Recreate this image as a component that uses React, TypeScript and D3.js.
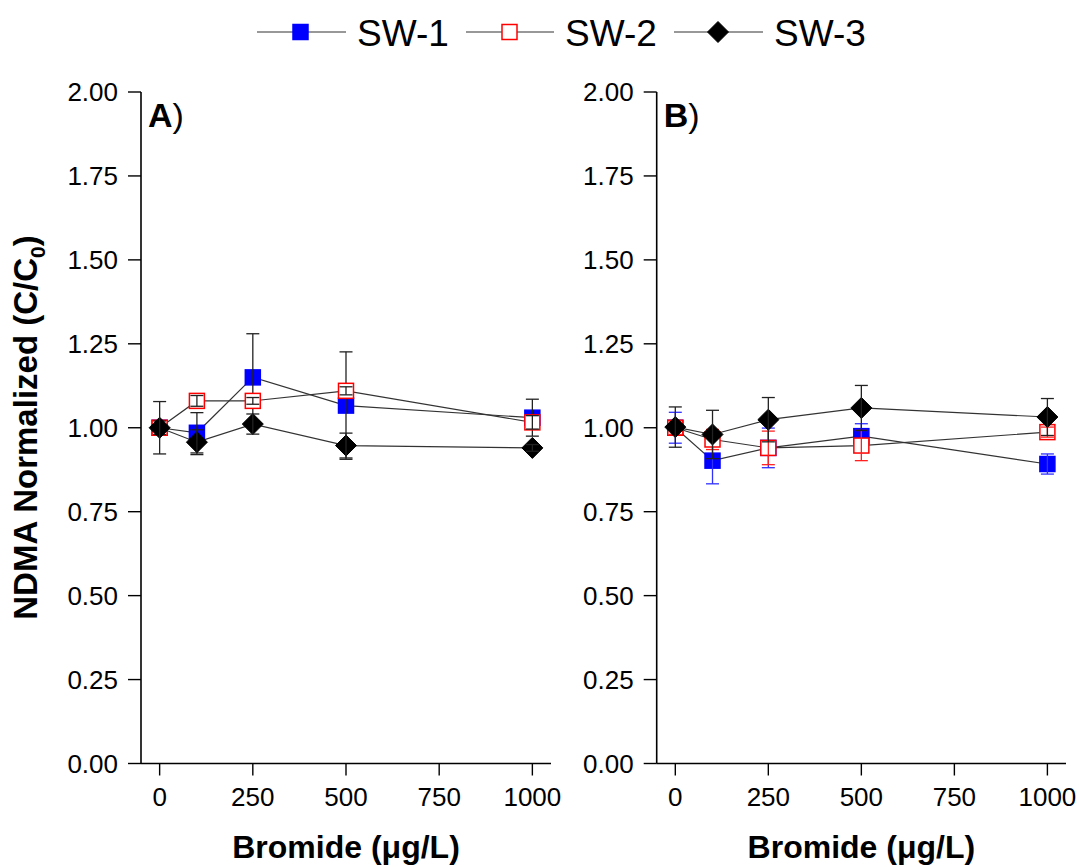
import React from "react";
import * as d3 from "d3";

const xValues = [0, 100, 250, 500, 1000];
const seriesNames = ["SW-1", "SW-2", "SW-3"];
const xTicks = [0, 250, 500, 750, 1000];
const yTicks = [0, 0.25, 0.5, 0.75, 1.0, 1.25, 1.5, 1.75, 2.0];

// Panel A
const aSW1 = [1.0, 0.985, 1.15, 1.066, 1.03];
const aSW1err = [0.02, 0.06, 0.13, 0.16, 0.055];
const aSW2 = [1.0, 1.08, 1.08, 1.11, 1.016];
const aSW2err = [0.02, 0.016, 0.01, 0.012, 0.02];
const aSW3 = [1.0, 0.957, 1.011, 0.947, 0.94];
const aSW3err = [0.078, 0.037, 0.03, 0.037, 0.01];

// Panel B
const bSW1 = [1.0, 0.902, 0.94, 0.975, 0.892];
const bSW1err = [0.046, 0.069, 0.059, 0.037, 0.03];
const bSW2 = [1.0, 0.965, 0.94, 0.947, 0.987];
const bSW2err = [0.02, 0.03, 0.05, 0.045, 0.015];
const bSW3 = [1.002, 0.98, 1.024, 1.059, 1.032];
const bSW3err = [0.06, 0.072, 0.066, 0.067, 0.055];

const FONT = "Arial, 'Liberation Sans', sans-serif";

type Style = { fill: string; stroke: string; shape: "square" | "diamond"; errColorA: string; errColorB: string };
const styles: Style[] = [
  { fill: "#0000ff", stroke: "#0000ff", shape: "square", errColorA: "#222", errColorB: "#3030ff" },
  { fill: "#ffffff", stroke: "#ff0000", shape: "square", errColorA: "#222", errColorB: "#ff2020" },
  { fill: "#000000", stroke: "#000000", shape: "diamond", errColorA: "#222", errColorB: "#222" },
];

function Marker({ x, y, s }: { x: number; y: number; s: Style }) {
  if (s.shape === "square") {
    const h = 7.5;
    return <rect x={x - h} y={y - h} width={2 * h} height={2 * h} fill={s.fill} stroke={s.stroke} strokeWidth={1.5} />;
  }
  const r = 10.5;
  return <path d={`M${x},${y - r}L${x + r},${y}L${x},${y + r}L${x - r},${y}Z`} fill={s.fill} stroke={s.stroke} strokeWidth={1} />;
}

function Panel({ x0, x1, label, data, errs, panelB }: { x0: number; x1: number; label: string; data: number[][]; errs: number[][]; panelB: boolean }) {
  const xs = d3.scaleLinear().domain([-50, 1050]).range([x0, x1]);
  const ys = d3.scaleLinear().domain([0, 2]).range([763.5, 92]);
  const line = d3.line<number>().x((_, i) => xs(xValues[i])).y((d) => ys(d));
  const cap = 6.5;
  return (
    <g>
      {/* axes */}
      <line x1={x0} y1={ys(2)} x2={x0} y2={ys(0)} stroke="#000" strokeWidth={1.6} />
      <line x1={x0} y1={ys(0)} x2={x1} y2={ys(0)} stroke="#000" strokeWidth={1.6} />
      {yTicks.map((t) => (
        <g key={t}>
          <line x1={x0 - 13} x2={x0} y1={ys(t)} y2={ys(t)} stroke="#000" strokeWidth={1.4} />
          <text x={x0 - 23} y={ys(t)} dy="0.35em" textAnchor="end" fontFamily={FONT} fontSize={26} fill="#000">
            {t.toFixed(2)}
          </text>
        </g>
      ))}
      {xTicks.map((t) => (
        <g key={t}>
          <line x1={xs(t)} x2={xs(t)} y1={ys(0)} y2={ys(0) + 12} stroke="#000" strokeWidth={1.4} />
          <text x={xs(t)} y={806} textAnchor="middle" fontFamily={FONT} fontSize={26} fill="#000">
            {t}
          </text>
        </g>
      ))}
      <text x={(xs(-50) + xs(1050)) / 2} y={858} textAnchor="middle" fontFamily={FONT} fontSize={32} fontWeight="bold" fill="#000">
        Bromide (μg/L)
      </text>
      <text x={x0 + 7} y={127} fontFamily={FONT} fontSize={34} fill="#000">
        <tspan fontWeight="bold">{label}</tspan>
        <tspan>)</tspan>
      </text>
      {/* series */}
      {data.map((vals, si) => {
        const s = styles[si];
        const ec = panelB ? s.errColorB : s.errColorA;
        return (
          <g key={si}>
            <path d={line(vals) || ""} fill="none" stroke="#333" strokeWidth={1.2} />
            {vals.map((v, i) => (
              <Marker key={i} x={xs(xValues[i])} y={ys(v)} s={s} />
            ))}
            {vals.map((v, i) => {
              const cx = xs(xValues[i]);
              const yt = ys(v + errs[si][i]);
              const yb = ys(v - errs[si][i]);
              return (
                <g key={"e" + i} stroke={ec} strokeWidth={1.3}>
                  <line x1={cx} x2={cx} y1={yt} y2={yb} />
                  <line x1={cx - cap} x2={cx + cap} y1={yt} y2={yt} />
                  <line x1={cx - cap} x2={cx + cap} y1={yb} y2={yb} />
                </g>
              );
            })}
          </g>
        );
      })}
    </g>
  );
}

function Legend() {
  const items = [
    { lx0: 257, lx1: 346, mx: 300.5, tx: 357 },
    { lx0: 466, lx1: 554, mx: 509.5, tx: 565 },
    { lx0: 674, lx1: 763, mx: 718, tx: 774 },
  ];
  const cy = 32;
  return (
    <g>
      {items.map((it, i) => (
        <g key={i}>
          <line x1={it.lx0} x2={it.lx1} y1={cy} y2={cy} stroke="#333" strokeWidth={1.2} />
          <Marker x={it.mx} y={cy} s={styles[i]} />
          <text x={it.tx} y={cy + 13.5} fontFamily={FONT} fontSize={37} fill="#000">
            {seriesNames[i]}
          </text>
        </g>
      ))}
    </g>
  );
}

export default function App() {
  return (
    <svg width={1079} height={867} style={{ position: "absolute", left: 0, top: 0, background: "#fff" }}>
      <rect x={0} y={0} width={1079} height={867} fill="#fff" />
      <Legend />
      <Panel x0={141} x1={551} label="A" data={[aSW1, aSW2, aSW3]} errs={[aSW1err, aSW2err, aSW3err]} panelB={false} />
      <Panel x0={656.7} x1={1066} label="B" data={[bSW1, bSW2, bSW3]} errs={[bSW1err, bSW2err, bSW3err]} panelB={true} />
      <text transform="translate(37,427.5) rotate(-90)" textAnchor="middle" fontFamily={FONT} fontSize={33} fontWeight="bold" fill="#000">
        NDMA Normalized (C/C
        <tspan fontSize={21} dy={8}>0</tspan>
        <tspan dy={-8}>)</tspan>
      </text>
    </svg>
  );
}
